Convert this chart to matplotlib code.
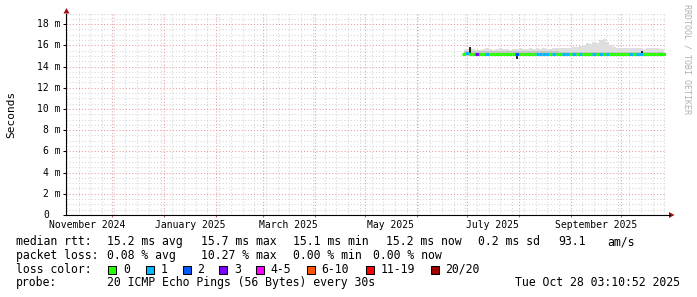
import matplotlib
matplotlib.use("Agg")
import matplotlib.pyplot as plt
import matplotlib.dates as mdates
from matplotlib.patches import Rectangle, Polygon
from matplotlib.collections import LineCollection
from matplotlib.lines import Line2D
import datetime as dt
import numpy as np

# ---------------- data ----------------
dates = [dt.datetime(2025, 6, 29) + dt.timedelta(days=2 * i) for i in range(61)]

median_ms = [15.2, 15.25, 15.2, 15.2, 15.2, 15.2, 15.2, 15.2, 15.2, 15.2,
             15.2, 15.2, 15.2, 15.2, 15.2, 15.2, 15.2, 15.2, 15.2, 15.2,
             15.2, 15.2, 15.2, 15.2, 15.2, 15.2, 15.2, 15.2, 15.2, 15.15,
             15.15, 15.15, 15.15, 15.15, 15.15, 15.15, 15.15, 15.15, 15.15, 15.15,
             15.15, 15.15, 15.15, 15.15, 15.15, 15.15, 15.15, 15.15, 15.15, 15.15,
             15.15, 15.15, 15.15, 15.15, 15.15, 15.15, 15.15, 15.15, 15.15, 15.15,
             15.15]

loss_pings = [0, 1, 0, 0, 3, 0, 0, 1, 0, 0,
              0, 0, 0, 0, 0, 0, 2, 0, 0, 0,
              0, 0, 1, 1, 1, 1, 0, 1, 0, 0,
              1, 1, 0, 1, 0, 1, 0, 0, 0, 1,
              0, 1, 0, 1, 0, 0, 0, 0, 0, 0,
              1, 0, 1, 1, 0, 0, 0, 0, 0, 0,
              0]

smoke_hi = [15.6, 15.65, 15.7, 15.65, 15.6, 15.6, 15.65, 15.7, 15.65, 15.6,
            15.65, 15.7, 15.65, 15.65, 15.6, 15.65, 15.65, 15.7, 15.65, 15.65,
            15.7, 15.65, 15.7, 15.65, 15.7, 15.65, 15.65, 15.7, 15.7, 15.7,
            15.75, 15.7, 15.75, 15.8, 15.85, 15.95, 16.05, 16.2, 16.1, 16.3,
            16.2, 16.5, 16.6, 16.3, 16.0, 15.85, 15.75, 15.7, 15.75, 15.7,
            15.75, 15.7, 15.75, 15.7, 15.65, 15.7, 15.75, 15.7, 15.7, 15.65,
            15.65]

smoke_lo = [15.0] * 61

spike_dates = [dt.datetime(2025, 7, 2, 14), dt.datetime(2025, 7, 31), dt.datetime(2025, 10, 13, 18)]
spike_lo = [15.3, 14.7, 15.2]
spike_hi = [15.85, 15.3, 15.5]

ytick_vals = [0, 2, 4, 6, 8, 10, 12, 14, 16, 18]
ytick_labels = ["0", "2 m", "4 m", "6 m", "8 m", "10 m", "12 m", "14 m", "16 m", "18 m"]

month_labels = [("November 2024", 2024, 11), ("January 2025", 2025, 1), ("March 2025", 2025, 3),
                ("May 2025", 2025, 5), ("July 2025", 2025, 7), ("September 2025", 2025, 9)]

loss_colors = ["#26ff00", "#00b8ff", "#0059ff", "#7e00ff", "#ff00ff", "#ff5500", "#ff0000", "#a10000"]
loss_names = ["0", "1", "2", "3", "4-5", "6-10", "11-19", "20/20"]

# ---------------- figure ----------------
W, H, DPI = 697, 297, 100
MONO = "DejaVu Sans Mono"
fig = plt.figure(figsize=(W / DPI, H / DPI), dpi=DPI, facecolor="white")

def fx(x):
    return x / W

def fy(y):
    return 1 - y / H

ax_top, ax_bot, ax_l, ax_r = 13.5, 215.0, 66.0, 666.0
ax = fig.add_axes([fx(ax_l), fy(ax_bot), (ax_r - ax_l) / W, (ax_bot - ax_top) / H])
ax.set_facecolor("white")

x0 = dt.datetime(2024, 11, 3, 12)
x1 = dt.datetime(2025, 10, 27, 22)
ax.set_xlim(x0, x1)
ax.set_ylim(0, 19.0)

# smoke
ax.fill_between(dates, smoke_lo, smoke_hi, step="mid", color="#dedede", lw=0, zorder=2)
inner_hi = [m + 0.25 for m in median_ms]
ax.fill_between(dates, smoke_lo, inner_hi, step="mid", color="#c6c6c6", lw=0, zorder=2.1)
for d, lo, hi in zip(spike_dates, spike_lo, spike_hi):
    ax.vlines(d, lo, hi, color="#202020", lw=1.4, zorder=3)

# median line colored by loss
def loss_idx(l):
    if l <= 3:
        return l
    if l <= 5:
        return 4
    if l <= 10:
        return 5
    if l <= 19:
        return 6
    return 7

dn = mdates.date2num(dates)
half = 1.0
segs, cols = [], []
for x, m, l in zip(dn, median_ms, loss_pings):
    segs.append([(x - half, m), (x + half, m)])
    cols.append(loss_colors[loss_idx(l)])
lc = LineCollection(segs, colors=cols, linewidths=2.2, capstyle="butt", zorder=4)
ax.add_collection(lc)

# grid
ax.xaxis.set_major_locator(mdates.MonthLocator())
ax.xaxis.set_minor_locator(mdates.WeekdayLocator(byweekday=mdates.MO))
ax.xaxis.set_major_formatter(plt.NullFormatter())
ax.set_yticks(ytick_vals)
ax.set_yticks(np.arange(0, 19.01, 0.5), minor=True)
ax.set_yticklabels([])
ax.grid(which="minor", color="#d4d4d4", linestyle=(0, (1, 2)), linewidth=0.75)
ax.grid(which="major", color="#e89a9a", linestyle=(0, (1, 2)), linewidth=0.75)
ax.set_axisbelow(True)

ax.tick_params(axis="y", which="major", direction="out", length=2.5, width=0.75, color="black")
ax.tick_params(axis="x", which="major", direction="out", length=1.5, width=0.75, color="#b06060")
ax.tick_params(which="minor", length=0)

for s in ["top", "right"]:
    ax.spines[s].set_visible(False)
for s in ["left", "bottom"]:
    ax.spines[s].set_color("black")
    ax.spines[s].set_linewidth(0.8)
    ax.spines[s].set_zorder(5)

# y tick labels
for v, lab in zip(ytick_vals, ytick_labels):
    ypix = ax_bot - v / 19.0 * (ax_bot - ax_top)
    right = 60.5 if lab.endswith("m") else 48.8
    fig.text(fx(right), fy(ypix), lab, ha="right", va="center", family=MONO, fontsize=7, color="black")

# x month labels centered in month
for lab, yr, mo in month_labels:
    a = dt.datetime(yr, mo, 1)
    b = dt.datetime(yr + (mo // 12), mo % 12 + 1, 1)
    mid = a + (b - a) / 2
    ax.text(mid, -(224.7 - ax_bot) / (ax_bot - ax_top), lab, transform=ax.get_xaxis_transform(),
            ha="center", va="center", family=MONO, fontsize=7, color="black", clip_on=False)

# arrows
fig.add_artist(Line2D([fx(666), fx(670)], [fy(215), fy(215)], color="black", lw=0.8))
fig.add_artist(Polygon([(fx(63.5), fy(13.5)), (fx(69.5), fy(13.5)), (fx(66.5), fy(8.0))],
                       closed=True, color="#a01010", lw=0))
fig.add_artist(Polygon([(fx(669), fy(212)), (fx(669), fy(218)), (fx(674.5), fy(215))],
                       closed=True, color="#a01010", lw=0))

# axis title and watermark
fig.text(fx(11), fy(114), "Seconds", rotation=90, ha="center", va="center", family=MONO, fontsize=8)
fig.text(fx(687.5), fy(59), "RRDTOOL / TOBI OETIKER", rotation=270, ha="center", va="center",
         family=MONO, fontsize=6, color="#b0b0b0")

# legend text
FS = 8.3
def t(x, y, s, **kw):
    fig.text(fx(x), fy(y), s, ha=kw.pop("ha", "left"), va="center", family=MONO, fontsize=FS, **kw)

r1, r2, r3, r4 = 241.7, 255.2, 269.3, 282.8
t(16, r1, "median rtt:")
t(107, r1, "15.2 ms avg")
t(201, r1, "15.7 ms max")
t(293, r1, "15.1 ms min")
t(386, r1, "15.2 ms now")
t(478, r1, "0.2 ms sd")
t(558, r1, "93.1")
t(607, r1, "am/s")

t(16, r2, "packet loss:")
t(107, r2, "0.08 % avg")
t(201, r2, "10.27 % max")
t(293, r2, "0.00 % min")
t(373, r2, "0.00 % now")

t(16, r3, "loss color:")
box_x = [108, 145.5, 182.5, 219, 256, 307, 365.5, 430.5]
lab_x = [123, 160.7, 197, 234, 270.7, 321.7, 380.7, 445.3]
for bx, lx, c, n in zip(box_x, lab_x, loss_colors, loss_names):
    fig.add_artist(Rectangle((fx(bx), fy(273.5)), 8 / W, 8 / H, transform=fig.transFigure,
                             facecolor=c, edgecolor="black", lw=0.75))
    t(lx, r3, n)

t(16, r4, "probe:")
t(107, r4, "20 ICMP Echo Pings (56 Bytes) every 30s")
t(680, r4, "Tue Oct 28 03:10:52 2025", ha="right")

fig.savefig("out.png", dpi=DPI, facecolor="white")
